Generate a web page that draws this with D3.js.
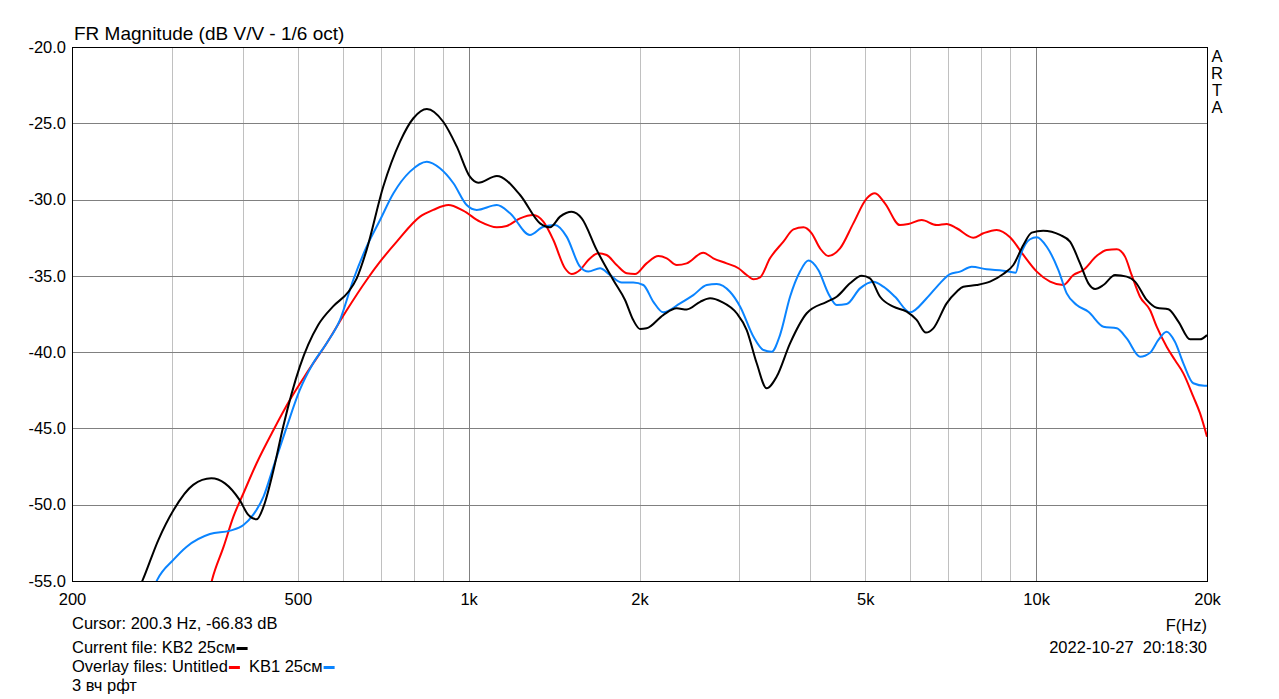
<!DOCTYPE html>
<html><head><meta charset="utf-8">
<script src="https://cdn.jsdelivr.net/npm/d3@7"></script>
<style>
body{margin:0;background:#fff;}
text{font-family:"Liberation Sans",Arial,sans-serif;font-size:16.5px;fill:#000;}
</style></head>
<body><svg id="c" width="1279" height="699"></svg>
<script>
// ---- data ----
const blackFreq=[255,266.5,284,302,327,352,372,395,409,423,435,453,471,504,543,577,614,635,661,707,757,799,844,902,953,1005,1040,1121,1232,1336,1391,1449,1519,1582,1681,1798,1886,1950,2004,2058,2202,2326,2422,2558,2663,2791,2967,3090,3218,3350,3490,3684,3942,4274,4452,4699,4927,5096,5308,5602,5914,6157,6395,6588,6954,7243,7441,7852,8292,8750,9115,9494,9820,10290,11016,11472,11948,12360,12700,13140,13772,14440,14936,15660,16308,17100,17808,18670,19440,20000];
const blackDb=[-56.5,-54.93,-52.3,-50.35,-48.7,-48.27,-48.6,-49.7,-50.67,-50.96,-50.13,-47.72,-44.9,-40.95,-38.22,-37.0,-36.04,-35.16,-33.3,-29.16,-26.2,-24.67,-24.06,-24.9,-26.53,-28.5,-28.9,-28.45,-29.7,-31.56,-31.82,-31.12,-30.8,-31.23,-33.3,-35.27,-36.58,-37.9,-38.48,-38.44,-37.57,-37.13,-37.2,-36.7,-36.47,-36.7,-37.45,-38.55,-40.73,-42.37,-41.6,-39.42,-37.45,-36.7,-36.37,-35.49,-35.0,-35.16,-36.37,-37.02,-37.35,-37.89,-38.72,-38.44,-36.8,-36.04,-35.71,-35.6,-35.38,-34.88,-34.29,-32.98,-32.17,-32.04,-32.32,-32.76,-34.18,-35.49,-35.86,-35.6,-34.94,-35.05,-35.38,-36.58,-37.09,-37.19,-38.0,-39.16,-39.16,-38.88];
const blueFreq=[272,282.6,302,318.5,350,380,401,417,435,453,478,504,532,562,593,626,661,698,737,788,844,890,940,992,1033,1121,1183,1282,1354,1420,1488,1571,1625,1704,1774,1861,1950,2031,2116,2202,2358,2488,2627,2736,2887,3009,3176,3307,3420,3537,3684,3836,3968,4132,4303,4452,4636,4894,5165,5380,5640,5996,6412,6768,7050,7342,7697,8180,8750,9200,9366,9754,10024,10438,10944,11320,11790,12360,13140,13870,14440,15240,15870,16420,16980,17560,18170,18920,19800,20000];
const blueDb=[-56.5,-54.93,-53.6,-52.75,-51.92,-51.7,-51.33,-50.67,-49.47,-47.5,-44.9,-42.48,-40.73,-39.42,-37.9,-35.27,-33.09,-31.34,-29.59,-28.17,-27.52,-27.95,-28.93,-30.36,-30.68,-30.36,-30.9,-32.32,-31.78,-31.67,-32.43,-34.4,-34.72,-34.5,-34.94,-35.44,-35.44,-35.6,-36.7,-37.39,-36.8,-36.26,-35.6,-35.53,-36.04,-37.02,-38.99,-39.86,-39.97,-38.88,-36.37,-34.72,-34.0,-34.62,-36.15,-36.91,-36.85,-35.82,-35.38,-35.71,-36.37,-37.39,-36.47,-35.49,-34.88,-34.72,-34.4,-34.57,-34.66,-34.79,-33.74,-32.6,-32.47,-33.09,-34.62,-36.15,-36.91,-37.35,-38.33,-38.44,-39.1,-40.3,-40.04,-39.2,-38.66,-39.32,-40.73,-42.04,-42.2,-42.2];
const redFreq=[345,353,370,385,401,423,453,484,518,562,610,661,698,747,821,866,921,978,1047,1121,1167,1232,1300,1354,1410,1478,1519,1571,1625,1692,1750,1823,1899,1964,2058,2159,2234,2326,2422,2590,2698,2848,2988,3090,3176,3262,3396,3586,3735,3890,4022,4161,4303,4512,4762,5029,5200,5414,5754,5954,6284,6680,6954,7243,7748,8070,8520,8994,9494,10024,10580,11164,11630,12110,12780,13310,13870,14340,14730,15240,15870,16308,16980,17560,18170,18920,19440,20000];
const redDb=[-56.5,-54.93,-52.75,-50.78,-49.25,-47.28,-45.1,-43.14,-41.39,-39.42,-37.24,-35.27,-34.07,-32.76,-31.12,-30.68,-30.36,-30.73,-31.45,-31.82,-31.73,-31.23,-31.01,-31.45,-32.65,-34.5,-34.88,-34.62,-33.96,-33.52,-33.63,-34.29,-34.83,-34.88,-34.18,-33.7,-33.85,-34.29,-34.18,-33.48,-33.85,-34.18,-34.5,-34.94,-35.23,-35.1,-33.85,-32.76,-31.95,-31.82,-32.21,-33.2,-33.7,-33.2,-31.56,-29.92,-29.59,-30.25,-31.67,-31.6,-31.34,-31.67,-31.6,-31.88,-32.5,-32.21,-31.99,-32.47,-33.63,-34.72,-35.38,-35.6,-34.94,-34.62,-33.7,-33.3,-33.26,-33.74,-34.94,-36.37,-37.24,-38.33,-39.64,-40.52,-41.39,-42.92,-44.0,-45.54];
const yTicks=[-55,-50,-45,-40,-35,-30,-25,-20];
const xTicks=[200,500,1000,2000,5000,10000,20000];
const xTickLabels=["200","500","1k","2k","5k","10k","20k"];
const minorGrid=[300,400,500,600,700,800,900,2000,3000,4000,5000,6000,7000,8000,9000];
const majorGrid=[1000,10000];

// ---- layout ----
const L=72,R=1207,T=47,B=581;
const svg=d3.select("#c");
const x=d3.scaleLog().domain([200,20000]).range([L,R]);
const y=d3.scaleLinear().domain([-55,-20]).range([B,T]);
const FF="Liberation Sans, Arial, sans-serif";

svg.append("rect").attr("width",1279).attr("height",699).attr("fill","#fff");
const g=svg.append("g");
g.selectAll(".vmin").data(minorGrid).join("line")
 .attr("x1",d=>Math.round(x(d))+0.5).attr("x2",d=>Math.round(x(d))+0.5).attr("y1",T).attr("y2",B)
 .attr("stroke","#c0c0c0").attr("stroke-width",1);
g.selectAll(".vmaj").data(majorGrid).join("line")
 .attr("x1",d=>Math.round(x(d))+0.5).attr("x2",d=>Math.round(x(d))+0.5).attr("y1",T).attr("y2",B)
 .attr("stroke","#808080").attr("stroke-width",1);
g.selectAll(".h").data(yTicks.slice(1,-1)).join("line")
 .attr("x1",L).attr("x2",R).attr("y1",d=>Math.round(y(d))+0.5).attr("y2",d=>Math.round(y(d))+0.5)
 .attr("stroke","#808080").attr("stroke-width",1);

svg.append("clipPath").attr("id","clip").append("rect").attr("x",L).attr("y",T).attr("width",R-L).attr("height",B-T);
const line=d3.line().x(d=>x(d[0])).y(d=>y(d[1])).curve(d3.curveMonotoneX);
const series=[[redFreq,redDb,"#ff0000"],[blueFreq,blueDb,"#0a84ff"],[blackFreq,blackDb,"#000000"]];
const cg=svg.append("g").attr("clip-path","url(#clip)");
series.forEach(([f,v,c])=>{
  cg.append("path").datum(f.map((d,i)=>[d,v[i]])).attr("d",line)
   .attr("fill","none").attr("stroke",c).attr("stroke-width",2).attr("stroke-linejoin","round");
});
svg.append("rect").attr("x",L+0.5).attr("y",T+0.5).attr("width",R-L).attr("height",B-T)
 .attr("fill","none").attr("stroke","#000").attr("stroke-width",1);

// axes
const ya=d3.axisLeft(y).tickValues(yTicks).tickSize(0).tickPadding(6).tickFormat(d=>d.toFixed(1));
svg.append("g").attr("transform",`translate(${L},0)`).call(ya).call(s=>s.select(".domain").remove())
 .selectAll("text").attr("font-size",16.5).attr("font-family",FF).attr("fill","#000");
const xa=d3.axisBottom(x).tickValues(xTicks).tickSize(0).tickPadding(12).tickFormat((d,i)=>xTickLabels[i]);
svg.append("g").attr("transform",`translate(0,${B})`).call(xa).call(s=>s.select(".domain").remove())
 .selectAll("text").attr("font-size",16.5).attr("font-family",FF).attr("fill","#000");

// texts
svg.append("text").attr("x",L+2).attr("y",40).style("font-size","19px").text("FR Magnitude (dB V/V - 1/6 oct)");
["A","R","T","A"].forEach((c,i)=>svg.append("text").attr("x",1217).attr("y",61.5+i*17).attr("text-anchor","middle").text(c));
svg.append("text").attr("x",L).attr("y",629).text("Cursor: 200.3 Hz, -66.83 dB");
const t1=svg.append("text").attr("x",L).attr("y",653).text("Current file: KB2 25см");
const w1=t1.node().getComputedTextLength();
svg.append("rect").attr("x",L+w1+1).attr("y",647).attr("width",11).attr("height",3).attr("fill","#000");
const t2=svg.append("text").attr("x",L).attr("y",672).text("Overlay files: Untitled");
const w2=t2.node().getComputedTextLength();
svg.append("rect").attr("x",L+w2+1).attr("y",666).attr("width",11).attr("height",3).attr("fill","#ff0000");
const t3=svg.append("text").attr("x",L+w2+21).attr("y",672).text("KB1 25см");
const w3=t3.node().getComputedTextLength();
svg.append("rect").attr("x",L+w2+21+w3+1).attr("y",666).attr("width",11).attr("height",3).attr("fill","#0a84ff");
svg.append("text").attr("x",L).attr("y",691).text("3 вч рфт");
svg.append("text").attr("x",R).attr("y",631).attr("text-anchor","end").text("F(Hz)");
svg.append("text").attr("x",R).attr("y",653).attr("text-anchor","end").style("white-space","pre").text("2022-10-27  20:18:30");
</script></body></html>
